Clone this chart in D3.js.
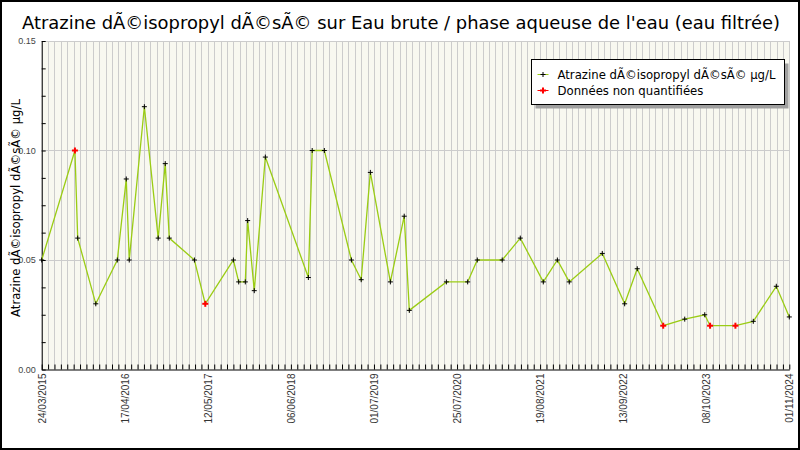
<!DOCTYPE html>
<html>
<head>
<meta charset="utf-8">
<script src="https://cdn.jsdelivr.net/npm/d3@7"></script>
<style>
body{margin:0;background:#fff}
svg{display:block;font-family:"DejaVu Sans",sans-serif}
</style>
</head>
<body>
<svg id="chart" width="800" height="450"></svg>
<script>
// measurement dates and values (µg/L)
const dates = ["2015-03-24","2015-08-27","2015-09-09","2015-12-03","2016-03-13","2016-04-24","2016-05-08","2016-07-18",
    "2016-09-21","2016-10-24","2016-11-12","2017-03-10","2017-04-30","2017-09-09","2017-10-04","2017-11-04",
    "2017-11-15","2017-12-16","2018-02-06","2018-08-27","2018-09-14","2018-11-10","2019-03-17","2019-05-02",
    "2019-06-14","2019-09-16","2019-11-20","2019-12-14","2020-06-05","2020-09-13","2020-10-28","2021-02-22",
    "2021-05-18","2021-09-03","2021-11-08","2022-01-03","2022-06-07","2022-09-20","2022-11-18","2023-03-20",
    "2023-06-29","2023-10-01","2023-10-26","2024-02-22","2024-05-16","2024-09-01","2024-11-01"];
const values = [0.05,0.10,0.06,0.03,0.05,0.087,0.05,0.12,
    0.06,0.094,0.06,0.05,0.03,0.05,0.04,0.04,
    0.068,0.036,0.097,0.042,0.10,0.10,0.05,0.041,
    0.09,0.04,0.07,0.027,0.04,0.04,0.05,0.05,
    0.06,0.04,0.05,0.04,0.053,0.03,0.046,0.02,
    0.023,0.025,0.02,0.02,0.022,0.038,0.024];
// dates of the non quantified results
const nonQuantified = ["2015-08-27","2017-04-30","2023-03-20","2023-10-26","2024-02-22"];

const tickLabels = ["24/03/2015","17/04/2016","12/05/2017","06/06/2018","01/07/2019",
    "25/07/2020","19/08/2021","13/09/2022","08/10/2023","01/11/2024"];
const yLabels = [0, 0.05, 0.10, 0.15];

const title = "Atrazine dÃ©isopropyl dÃ©sÃ© sur Eau brute / phase aqueuse de l'eau (eau filtrée)";
const seriesName = "Atrazine dÃ©isopropyl dÃ©sÃ© µg/L";
const nqName = "Données non quantifiées";

const parse = d3.utcParse("%Y-%m-%d");
const parseLabel = d3.utcParse("%d/%m/%Y");
const fmt = d3.utcFormat("%d/%m/%Y");

const data = dates.map((d,i) => ({date: parse(d), value: values[i], nq: nonQuantified.includes(d)}));

const pLeft = 41.7, pRight = 789.3, pTop = 41, pBottom = 369.5;
const lineColor = "#9acc14";

const svg = d3.select("#chart");

const x = d3.scaleUtc()
    .domain(d3.extent(data, d => d.date))
    .range([pLeft, pRight]);
const y = d3.scaleLinear()
    .domain([0, 0.15])
    .range([pBottom, pTop]);

// one grid line every 30 days from the first sample
const start = x.domain()[0];
const nGrid = Math.round(d3.utcDay.count(start, x.domain()[1]) / 30);
const gridDates = d3.range(0, nGrid + 1).map(i => d3.utcDay.offset(start, i*30));

svg.append("rect").attr("x", pLeft).attr("y", pTop)
    .attr("width", pRight-pLeft).attr("height", pBottom-pTop)
    .attr("fill", "#f8f8f0");

svg.append("g").attr("class", "vgrid")
    .selectAll("line")
    .data(gridDates)
    .join("line")
    .attr("x1", d => Math.round(x(d))+0.5).attr("x2", d => Math.round(x(d))+0.5)
    .attr("y1", pTop).attr("y2", pBottom)
    .attr("stroke", "#cccccc")
    .attr("stroke-width", 1);

svg.append("g").attr("class", "hgrid")
    .selectAll("line")
    .data(yLabels.slice(1))
    .join("line")
    .attr("x1", pLeft).attr("x2", pRight)
    .attr("y1", d => Math.round(y(d))+0.5).attr("y2", d => Math.round(y(d))+0.5)
    .attr("stroke", "#cccccc")
    .attr("stroke-width", 1);

// x axis, labels only on the listed dates
const labelSet = new Set(tickLabels.map(s => fmt(parseLabel(s))));
const gx = svg.append("g")
    .attr("transform", `translate(0,${pBottom})`)
    .call(d3.axisBottom(x)
        .tickValues(gridDates)
        .tickSizeInner(-5)
        .tickSizeOuter(0)
        .tickFormat(d => labelSet.has(fmt(d)) ? fmt(d) : ""));
gx.select(".domain").attr("stroke", "#000");
gx.selectAll(".tick line").attr("stroke", "#000");
gx.selectAll(".tick text")
    .attr("transform", "rotate(-90)")
    .attr("x", -4).attr("y", 0).attr("dy", "0.35em")
    .style("text-anchor", "end")
    .style("font-family", "'Liberation Sans', Arial, sans-serif")
    .style("font-size", "10px")
    .attr("fill", "#333");

// y axis, minor ticks every 0.0125
const gy = svg.append("g")
    .attr("transform", `translate(${pLeft},0)`)
    .call(d3.axisLeft(y)
        .tickValues(d3.range(0, 0.15001, 0.0125))
        .tickSizeInner(-4)
        .tickSizeOuter(0)
        .tickPadding(6)
        .tickFormat(d => yLabels.some(v => Math.abs(v-d) < 1e-9) ? d3.format(".2f")(d) : ""));
gy.select(".domain").attr("stroke", "#000");
gy.selectAll(".tick line").attr("stroke", "#000");
gy.selectAll(".tick text")
    .style("font-family", "'Liberation Sans', Arial, sans-serif")
    .style("font-size", "9px")
    .attr("fill", "#444");

// series line
svg.append("path")
    .datum(data)
    .attr("fill", "none")
    .attr("stroke", lineColor)
    .attr("stroke-width", 1.3)
    .attr("d", d3.line().x(d => x(d.date)).y(d => y(d.value)));

function cross(g, size, color, width){
    g.append("line").attr("x1", -size).attr("x2", size).attr("y1", 0).attr("y2", 0)
        .attr("stroke", color).attr("stroke-width", width);
    g.append("line").attr("x1", 0).attr("x2", 0).attr("y1", -size).attr("y2", size)
        .attr("stroke", color).attr("stroke-width", width);
}

svg.append("g").attr("class", "marks")
    .selectAll("g")
    .data(data)
    .join("g")
    .attr("transform", d => `translate(${x(d.date)},${y(d.value)})`)
    .each(function(d){
        if(d.nq){cross(d3.select(this), 3, "#ff0000", 2)}
        else{cross(d3.select(this), 2.5, "#000", 1)}
    });

// title
svg.append("text")
    .attr("x", 401).attr("y", 29)
    .attr("text-anchor", "middle")
    .attr("textLength", 758).attr("lengthAdjust", "spacingAndGlyphs")
    .style("font-size", "18px")
    .attr("fill", "#000")
    .text(title);

// y axis title
svg.append("text")
    .attr("transform", "translate(19.5,208) rotate(-90)")
    .attr("text-anchor", "middle")
    .style("font-size", "11.7px")
    .attr("fill", "#000")
    .text(seriesName);

// legend
const lg = svg.append("g");
lg.append("rect").attr("x", 535.5).attr("y", 63.5).attr("width", 253).attr("height", 45)
    .attr("fill", "#a0a0a0");
lg.append("rect").attr("x", 531.5).attr("y", 59.5).attr("width", 253).attr("height", 45)
    .attr("fill", "#fff").attr("stroke", "#000").attr("stroke-width", 1);
const entries = [
    {label: seriesName, line: lineColor, mark: "#000", size: 2.5, w: 1},
    {label: nqName, line: "#ff0000", mark: "#ff0000", size: 3, w: 2}
];
lg.selectAll("g.entry")
    .data(entries)
    .join("g")
    .attr("class", "entry")
    .attr("transform", (d,i) => `translate(543,${74.5 + i*16})`)
    .each(function(d){
        const g = d3.select(this);
        g.append("line").attr("x1", -5.5).attr("x2", 5.5).attr("stroke", d.line).attr("stroke-width", 1);
        cross(g, d.size, d.mark, d.w);
        g.append("text").attr("x", 14.5).attr("dy", "0.35em")
            .style("font-size", "11.7px").attr("fill", "#000").text(d.label);
    });

// outer frame
svg.append("rect").attr("x", 1).attr("y", 1).attr("width", 798).attr("height", 448)
    .attr("fill", "none").attr("stroke", "#000").attr("stroke-width", 2);
</script>
</body>
</html>
